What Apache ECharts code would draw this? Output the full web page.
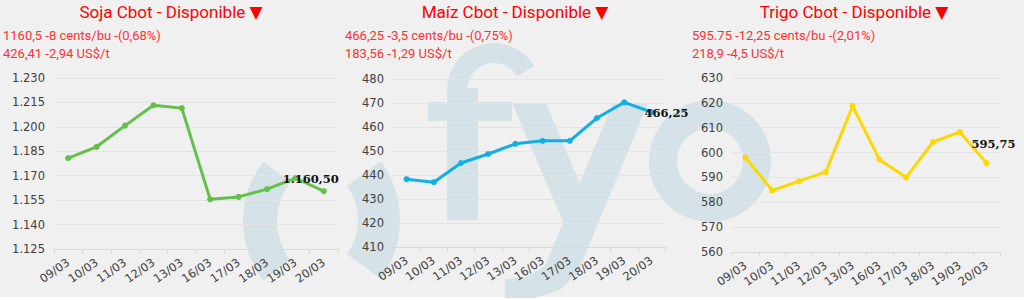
<!DOCTYPE html>
<html><head><meta charset="utf-8">
<script src="https://cdn.jsdelivr.net/npm/echarts@6/dist/echarts.min.js"></script>
<style>html,body{margin:0;padding:0;background:#f0f0f0}#c{width:1024px;height:300px}</style>
</head><body><div id="c"></div><script>
// ---- data ----
const categories = ['09/03','10/03','11/03','12/03','13/03','16/03','17/03','18/03','19/03','20/03'];
const sojaValues  = [1180.75, 1187.75, 1200.75, 1213.25, 1211.5, 1155.5, 1157, 1161.75, 1168.5, 1160.5];
const maizValues  = [438.25, 437, 445, 448.75, 453, 454.25, 454.25, 463.75, 470.25, 466.25];
const trigoValues = [598, 584.75, 588.5, 592.25, 618.75, 597.25, 590, 604.25, 608.25, 595.75];
const titles = ['Soja Cbot - Disponible', 'Maíz Cbot - Disponible', 'Trigo Cbot - Disponible'];
const subLines = [
  '1160,5 -8 cents/bu -(0,68%)\n426,41 -2,94 US$/t',
  '466,25 -3,5 cents/bu -(0,75%)\n183,56 -1,29 US$/t',
  '595.75 -12,25 cents/bu -(2,01%)\n218,9 -4,5 US$/t'
];
const yRanges = [[1125, 1230, 15], [410, 480, 10], [560, 630, 10]];
const colors = ['#62c04b', '#12aee6', '#fcd700'];

// ---- helpers ----
function fmtNum(v, dec) {
  const parts = v.toFixed(dec).split('.');
  parts[0] = parts[0].replace(/\B(?=(\d{3})+(?!\d))/g, '.');
  return parts.join(',');
}

const chart = echarts.init(document.getElementById('c'), null, {renderer: 'svg'});
const AXIS_FONT = 'DejaVu Sans';
const TITLE_FONT = 'Roboto';

const grids = [
  {left: 54, top: 78, width: 284, height: 171},
  {left: 393, top: 79, width: 272, height: 168},
  {left: 732, top: 78, width: 268, height: 174}
];
const titleX = [171, 515, 854];
const subX = [3, 345, 692];
const labelCfg = [
  {position: 'top', distance: 5, offset: [-13, 2]},
  {position: 'right', distance: -10, offset: [0, 1]},
  {position: 'top', distance: 5, offset: [7, -5]}
];
const seriesValues = [sojaValues, maizValues, trigoValues];

const titleComp = [];
titles.forEach((t, i) => {
  titleComp.push({text: t + ' {t|▼}', left: titleX[i], top: 3, textAlign: 'center', padding: 0,
    textStyle: {color: '#ff0000', fontSize: 17, fontWeight: 'normal', fontFamily: TITLE_FONT,
      rich: {t: {color: '#ff0000', fontSize: 17, fontFamily: 'DejaVu Sans'}}}});
  titleComp.push({text: subLines[i], left: subX[i], top: 26, padding: 0,
    textStyle: {color: '#ff3030', fontSize: 13, fontWeight: 'normal', fontFamily: TITLE_FONT, lineHeight: 18}});
});

const xAxes = grids.map((g, i) => ({
  type: 'category', gridIndex: i, data: categories, boundaryGap: true,
  axisLine: {lineStyle: {color: '#d9d9d9'}},
  axisTick: {show: true, length: 5, lineStyle: {color: '#d9d9d9'}},
  axisLabel: {rotate: 35, color: '#404040', fontSize: 11.5, fontFamily: AXIS_FONT, margin: 12, interval: 0}
}));
const yAxes = grids.map((g, i) => ({
  type: 'value', gridIndex: i, min: yRanges[i][0], max: yRanges[i][1], interval: yRanges[i][2],
  axisLine: {show: false}, axisTick: {show: false},
  splitLine: {lineStyle: {color: '#e4e4e4'}},
  axisLabel: {color: '#404040', fontSize: 11.5, fontFamily: AXIS_FONT, margin: 9,
    formatter: i === 0 ? (v => (v / 1000).toFixed(3)) : (v => String(v))}
}));
const series = seriesValues.map((vals, i) => ({
  type: 'line', xAxisIndex: i, yAxisIndex: i,
  symbol: 'circle', symbolSize: 6,
  lineStyle: {color: colors[i], width: 3},
  itemStyle: {color: colors[i]},
  z: 5,
  data: vals.map((v, k) => k === vals.length - 1 ? {
    value: v,
    label: Object.assign({show: true, formatter: p => fmtNum(p.value, 2),
      color: '#111', fontWeight: 'bold', fontSize: 11.5, fontFamily: 'DejaVu Serif'}, labelCfg[i])
  } : v)
}));

const WM = '#d5e3e8';
const graphic = [
  {type: 'rect', shape: {x: 0, y: 297, width: 1024, height: 3}, style: {fill: '#ffffff'}, z: -20},
  // "(" and ")"
  {type: 'sector', shape: {cx: 340, cy: 221, r: 97, r0: 63, startAngle: Math.PI * (1 - 0.21), endAngle: Math.PI * (1 + 0.21)}, style: {fill: WM}, z: -10},
  {type: 'sector', shape: {cx: 300, cy: 220, r: 100, r0: 58, startAngle: -Math.PI * 0.2, endAngle: Math.PI * 0.2}, style: {fill: WM}, z: -10},
  // "f"
  {type: 'rect', shape: {x: 447, y: 88, width: 31, height: 132}, style: {fill: WM}, z: -10},
  {type: 'rect', shape: {x: 428, y: 102, width: 84, height: 19}, style: {fill: WM}, z: -10},
  {type: 'sector', shape: {cx: 494, cy: 90, r: 47, r0: 27, startAngle: Math.PI, endAngle: Math.PI * 1.83}, style: {fill: WM}, z: -10},
  // "y"
  {type: 'polygon', shape: {points: [[512,103],[546,103],[595,220],[578,256]]}, style: {fill: WM}, z: -10},
  {type: 'polygon', shape: {points: [[613,103],[648,103],[578,272],[560,290],[535,298],[505,298],[505,279],[527,277],[545,266]]}, style: {fill: WM}, z: -10},
  // "o"
  {type: 'ring', shape: {cx: 710, cy: 161, r: 61, r0: 33}, style: {fill: WM}, z: -10}
];

chart.setOption({
  backgroundColor: '#f0f0f0',
  animation: false,
  title: titleComp,
  grid: grids,
  xAxis: xAxes,
  yAxis: yAxes,
  series: series,
  graphic: graphic
});
</script></body></html>
